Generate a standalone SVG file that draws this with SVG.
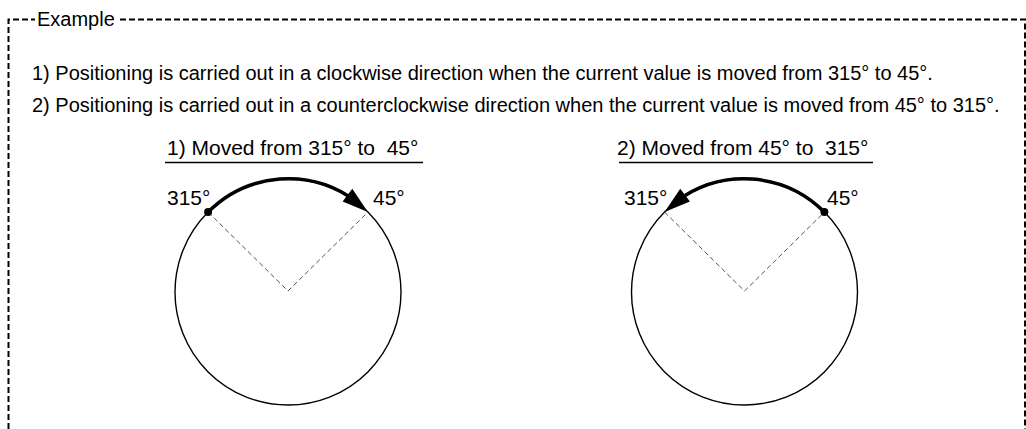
<svg xmlns="http://www.w3.org/2000/svg" width="1026" height="429" viewBox="0 0 1026 429">
<style>
text{font-family:"Liberation Sans",Arial,sans-serif;font-size:20px;fill:#000}
.t{font-size:21px}
.frame{fill:none;stroke:#000;stroke-width:2;stroke-dasharray:6 3}
.circ{fill:none;stroke:#000;stroke-width:1.4}
.guide{fill:none;stroke:#555;stroke-width:1;stroke-dasharray:5 3}
.move{fill:none;stroke:#000;stroke-width:3.5}
.head{fill:#000}
.ul{stroke:#000;stroke-width:1.3}
</style>
<rect width="1026" height="429" fill="#fff"/>
<g id="frame">
<path class="frame" d="M8.5,429 V19.5 H35"/>
<path class="frame" d="M120,19.5 H1025 V429"/>
<text x="37" y="26">Example</text>
</g>
<g id="notes">
<text x="32" y="80">1) Positioning is carried out in a clockwise direction when the current value is moved from 315° to 45°.</text>
<text x="32" y="112">2) Positioning is carried out in a counterclockwise direction when the current value is moved from 45° to 315°.</text>
</g>
<g id="case1">
<text class="t" x="167" y="155" xml:space="preserve">1) Moved from 315° to  45°</text>
<line class="ul" x1="165" y1="162.5" x2="423" y2="162.5"/>
<circle class="circ" cx="288" cy="292" r="113"/>
<path class="guide" d="M208.1,212.1 L288,291 L367.9,212.1"/>
<text class="t" x="167" y="205">315°</text>
<text class="t" x="373" y="205">45°</text>
</g>
<g id="case2">
<text class="t" x="617" y="155" xml:space="preserve">2) Moved from 45° to  315°</text>
<line class="ul" x1="619" y1="162.5" x2="873" y2="162.5"/>
<circle class="circ" cx="744.5" cy="292" r="113"/>
<path class="guide" d="M664.6,212.1 L744.5,291 L824.4,212.1"/>
<text class="t" x="624" y="205">315°</text>
<text class="t" x="827" y="205">45°</text>
</g>
<g id="connectors">
<path class="move" d="M208.1,212.1 A113,113 0 0 1 355.5,201"/>
<polygon class="head" points="367.9,212.1 352.3,188.8 342.6,201.6"/>
<circle class="head" cx="208.1" cy="212.1" r="4"/>
<path class="move" d="M824.4,212.1 A113,113 0 0 0 677,201"/>
<polygon class="head" points="664.6,212.1 680.2,188.8 689.9,201.6"/>
<circle class="head" cx="824.4" cy="212.1" r="4"/>
</g>
</svg>
